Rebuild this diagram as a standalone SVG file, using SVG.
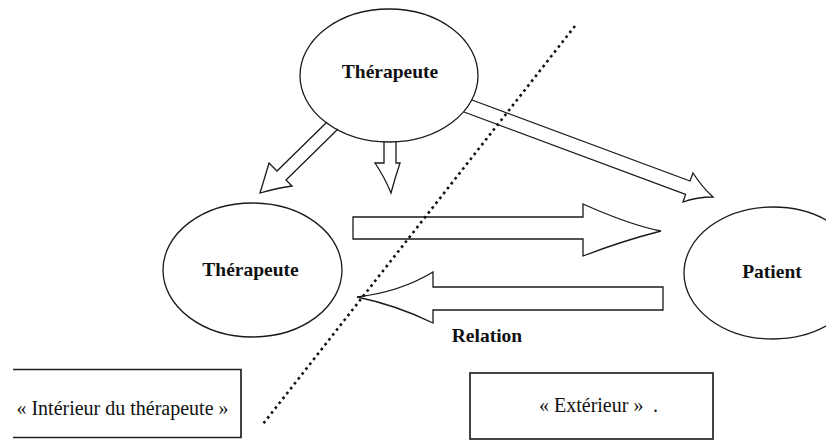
<svg xmlns="http://www.w3.org/2000/svg" width="826" height="441" viewBox="0 0 826 441">
<style>
.shape{fill:#fff;stroke:#1a1a1a;stroke-width:1.3;stroke-linejoin:miter}
.arrow{fill:#fff;stroke:#1a1a1a;stroke-width:1.3;stroke-linejoin:miter}
.box{fill:none;stroke:#222;stroke-width:1.7}
.lbl{font-family:"Liberation Serif","Times New Roman",serif;font-weight:bold;font-size:19.5px;fill:#111;text-anchor:middle}
.txt{font-family:"Liberation Serif","Times New Roman",serif;font-size:20px;fill:#111}
.dots{fill:none;stroke:#111;stroke-width:2.6;stroke-dasharray:2.6 3.6}
</style>
<rect width="826" height="441" fill="#fff"/>
<g id="connectors">
  <path class="arrow" d="M327,122 L277,171 L269,163 Q264,180 260,193 Q277,188 292,186 L286,180 L338,129"/>
  <path class="arrow" d="M384,141 L384,163 L375,163 Q385,178 391,193 Q395,178 400,163 L396,163 L396,141"/>
  <path class="arrow" d="M472,100 L690,181 L693,173 Q702,187 713,197 Q697,197 683,202 L685.6,194.4 L464,112"/>
  <path id="arrow-right" class="arrow" d="M353,217 L583,217 L583,204 Q630,225 661,231 Q622,241 583,256 L583,239 L353,239 Z"/>
  <path id="arrow-left" class="arrow" d="M663,287 L433,287 L433,272 Q400,292 357,297 Q396,305 433,323 L433,310 L663,310 Z"/>
  <line class="dots" x1="575" y1="26" x2="263" y2="424"/>
</g>
<g id="node-therapeute-top">
  <ellipse class="shape" cx="389" cy="75.5" rx="89" ry="66.5" fill="none" style="fill:none"/>
  <text class="lbl" x="390" y="78">Thérapeute</text>
</g>
<g id="node-therapeute-left">
  <ellipse class="shape" cx="252.5" cy="270" rx="89.5" ry="67" style="fill:none"/>
  <text class="lbl" x="250.5" y="276">Thérapeute</text>
</g>
<g id="node-patient">
  <ellipse class="shape" cx="773" cy="273" rx="89" ry="66" style="fill:none"/>
  <text class="lbl" x="772" y="278">Patient</text>
</g>
<g id="label-relation">
  <text class="lbl" x="487" y="342">Relation</text>
</g>
<g id="box-interieur">
  <path class="box" d="M13,369.5 L241,369.5 L241,437.5 L13,437.5"/>
  <text class="txt" x="122.5" y="415" text-anchor="middle">« Intérieur du thérapeute »</text>
</g>
<g id="box-exterieur">
  <rect class="box" x="470" y="373" width="243" height="66"/>
  <text class="txt" x="539" y="412">« Extérieur »<tspan x="653">.</tspan></text>
</g>
</svg>
